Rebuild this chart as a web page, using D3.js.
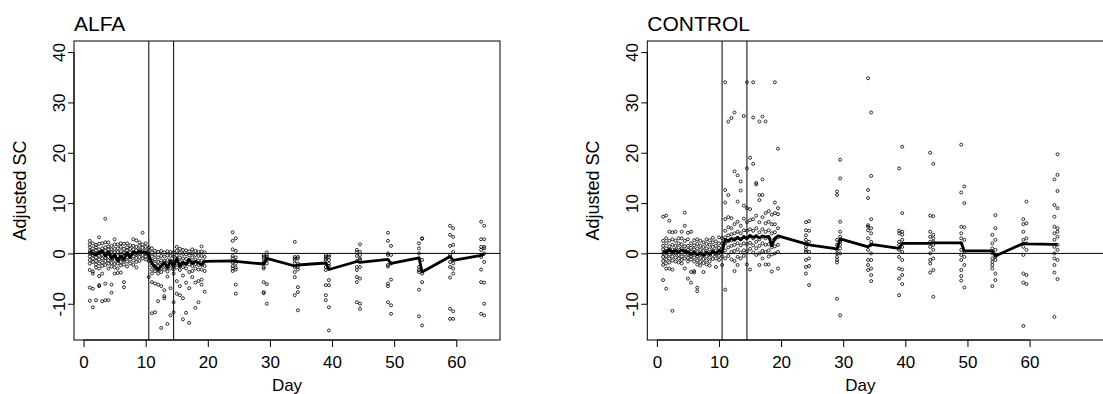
<!DOCTYPE html>
<html>
<head>
<meta charset="utf-8">
<script src="https://cdn.jsdelivr.net/npm/d3@7"></script>
<style>
  body { margin: 0; background: #fff; }
  svg { display: block; }
  text { font-family: "Liberation Sans", Arial, Helvetica, sans-serif; fill: #000; }
</style>
</head>
<body>
<svg id="chart" width="1103" height="394"></svg>
<script>
// measurement days (half-day steps in the first weeks, pairs later)
const days = [1, 1.5, 2, 2.5, 3, 3.5, 4, 4.5, 5, 5.5, 6, 6.5, 7, 7.5, 8, 8.5, 9, 9.5, 10, 10.5,
  11, 11.5, 12, 12.5, 13, 13.5, 14, 14.5, 15, 15.5, 16, 16.5, 17, 17.5, 18, 18.5, 19, 19.5,
  24, 24.5, 29, 29.5, 34, 34.5, 39, 39.5, 44, 44.5, 49, 49.5, 54, 54.5, 59, 59.5, 64, 64.5];

const xTicks = [0, 10, 20, 30, 40, 50, 60];
const yTicks = [-10, 0, 10, 20, 30, 40];
const markerDays = [10.5, 14.5];
const panelTitles = ['ALFA', 'CONTROL'];

// ALFA: adjusted SC per animal, one list per day
const alfaValues = [
  [2.5, 1.8, 1.2, 0.5, 0, -0.6, -1.3, -2.0, -3.3, -6.8, -9.4],
  [2.0, 1.0, 0.3, -0.3, -1.0, -1.7, -3.6, -4.0, -7.0, -10.7],
  [1.7, 1.2, 0.6, 0.0, -0.8, -1.5, -2.2, -2.8, -9.3],
  [3.2, 1.9, 0.8, 0.1, -0.5, -1.2, -2.0, -3.0, -4.5, -6.3, -6.5],
  [2.0, 1.0, 0.4, -0.3, -1.0, -1.8, -2.5, -4.0, -9.5],
  [6.9, 2.2, 1.2, 0.5, -0.2, -0.9, -1.5, -2.3, -6.0, -9.3],
  [2.2, 1.4, 0.8, 0.0, -0.7, -1.4, -2.0, -3.0, -9.3],
  [1.5, 0.8, 0.2, -0.6, -1.2, -1.9, -2.6, -6.2, -7.8],
  [2.8, 1.8, 0.9, 0.2, -0.5, -1.3, -2.1, -2.8, -4.0],
  [1.8, 1.0, 0.3, -0.5, -1.2, -2.0, -3.0, -3.9],
  [2.0, 1.3, 0.4, -0.3, -1.0, -1.7, -2.4, -3.8],
  [1.9, 0.9, 0.1, -0.6, -1.4, -2.2, -5.7, -6.7],
  [2.0, 1.2, 0.6, -0.1, -0.8, -1.6, -2.6],
  [1.6, 0.9, 0.2, -0.5, -1.2, -2.0],
  [2.8, 1.5, 0.8, 0.1, -0.6, -1.4, -2.3],
  [2.6, 1.3, 0.6, -0.2, -0.9, -1.7, -2.8],
  [2.2, 1.5, 0.7, 0.0, -0.7, -1.5],
  [4.1, 1.8, 1.1, 0.4, -0.3, -1.0],
  [2.0, 1.3, 0.6, 0.0, -0.6, -1.2],
  [1.2, 0.5, -0.2, -0.8, -1.5, -4.7],
  [1.0, 0.2, -0.6, -1.5, -2.4, -3.2, -4.0, -5.7, -11.9],
  [0.5, -0.3, -1.2, -2.0, -2.8, -3.5, -6.0, -11.7],
  [0.3, -0.8, -1.7, -2.5, -3.3, -4.0, -6.2, -9.5],
  [0.5, -0.5, -1.4, -2.2, -3.0, -3.7, -6.5, -14.8],
  [0.2, -0.6, -1.5, -2.4, -3.2, -7.3, -8.5, -8.9],
  [0.4, -0.4, -1.3, -2.1, -2.9, -3.6, -4.6, -14.0],
  [0.3, -0.5, -1.4, -2.2, -3.0, -6.9, -12.3],
  [0.2, -0.6, -1.5, -2.3, -3.2, -4.0, -9.7, -11.7],
  [1.3, 0.5, -0.4, -1.2, -2.0, -2.8, -5.5, -8.0],
  [0.9, 0.1, -0.8, -1.6, -2.5, -3.3, -6.5, -8.3],
  [0.7, -0.1, -1.0, -1.8, -2.7, -4.4, -8.9, -13.1],
  [0.6, -0.2, -1.1, -2.0, -3.0, -5.8, -11.8],
  [0.4, -0.4, -1.3, -2.2, -3.7, -6.9, -13.8],
  [0.8, 0.0, -0.8, -1.7, -2.5, -3.5, -4.7],
  [0.5, -0.3, -1.2, -2.1, -3.0, -5.8, -10.8],
  [0.3, -0.5, -1.4, -2.3, -3.2, -5.5, -9.7],
  [1.4, 0.4, -0.5, -1.4, -2.3, -3.2, -5.2, -6.2],
  [0.2, -0.7, -1.6, -2.5, -3.5, -7.6],
  [4.2, 2.5, 0.8, -0.5, -1.0, -1.8, -2.5, -3.0, -3.5],
  [3.0, 0.5, -0.8, -1.5, -2.0, -2.8, -3.2, -6.2, -8.0],
  [-0.3, -0.7, -1.0, -1.7, -2.0, -2.7, -3.0, -5.7, -7.7, -7.9],
  [0.2, -0.3, -0.7, -1.3, -2.0, -6.1, -10.0],
  [2.3, -0.7, -1.0, -1.3, -2.0, -2.7, -3.7, -4.7, -8.3],
  [-0.7, -1.0, -2.0, -2.7, -3.2, -6.7, -7.7, -11.3],
  [-0.3, -0.7, -1.0, -1.3, -2.7, -3.3, -6.3, -8.3, -9.3],
  [-0.3, -0.7, -1.3, -2.0, -2.5, -5.3, -6.3, -10.7, -15.3],
  [0.7, 0.2, -0.5, -1.5, -2.7, -3.3, -4.7, -5.7, -9.7],
  [1.8, 0.3, -0.3, -1.0, -1.3, -2.7, -5.0, -10.0, -11.0],
  [4.1, 2.5, 0.0, -0.3, -2.3, -2.6, -6.0, -6.5, -9.7],
  [1.5, -0.3, -2.0, -5.2, -10.3, -12.0],
  [2.0, 1.0, 0.0, -1.0, -2.7, -3.3, -3.7, -7.2, -12.5],
  [3.0, 2.9, -1.3, -4.0, -5.7, -14.3],
  [5.5, 3.7, 1.5, -0.3, -1.7, -2.7, -4.8, -11.0, -13.0],
  [5.0, 3.3, 1.7, 0.3, -2.0, -3.0, -4.0, -11.5, -13.0],
  [6.3, 2.8, 1.3, 0.7, -0.7, -3.2, -5.7, -12.0],
  [5.5, 2.8, 1.3, 1.0, 0.0, -1.7, -5.8, -10.0, -12.3]
];
const alfaMeans = [0.5, 0.0, -0.3, 0.2, 0.5, -0.5, 0.3, -1.0, -0.3, -1.5, -0.5, -1.2, 0.2, -0.8,
  0.3, 0.0, 0.5, 0.2, 0.3, -0.3, -2.0, -2.6, -3.2, -2.5, -1.8, -2.8, -1.5, -2.7, -1.0, -2.5,
  -1.8, -2.2, -1.2, -2.0, -1.6, -1.9, -2.2, -1.6,
  -1.5, -1.6, -2.1, -1.0, -2.5, -2.3, -1.9, -3.2, -1.6, -1.8, -1.2, -2.0, -0.9, -3.7, -0.6, -1.4, -0.4, -0.1];

// CONTROL
const controlValues = [
  [7.3, 2.5, 1.5, 0.8, 0.0, -0.7, -1.5, -2.3, -5.3],
  [7.5, 3.0, 2.0, 1.0, 0.3, -0.5, -1.2, -2.0, -3.0, -7.0],
  [6.5, 4.3, 2.5, 1.4, 0.6, -0.2, -1.0, -1.8, -3.0],
  [4.2, 2.8, 1.7, 0.8, 0.1, -0.6, -1.4, -3.2, -11.4],
  [4.3, 2.5, 1.5, 0.7, 0.0, -0.8, -1.6],
  [3.0, 2.0, 1.2, 0.4, -0.3, -1.0, -1.8],
  [4.3, 3.0, 1.8, 1.0, 0.2, -0.6, -1.3, -2.0],
  [8.1, 5.5, 2.5, 1.4, 0.6, -0.2, -1.0, -3.0],
  [4.1, 2.8, 1.5, 0.7, -0.1, -0.9, -1.6, -5.0],
  [4.3, 2.0, 1.1, 0.3, -0.5, -1.2, -3.7, -5.8],
  [2.6, 1.6, 0.8, 0.0, -0.8, -1.6, -3.5, -3.8],
  [2.8, 1.9, 1.0, 0.2, -0.6, -1.4, -2.2, -6.8, -7.5],
  [2.5, 1.5, 0.7, -0.1, -0.9, -1.7, -2.4],
  [2.2, 1.3, 0.5, -0.3, -1.1, -1.9, -3.7],
  [2.8, 1.9, 1.0, 0.2, -0.6, -1.4, -2.2],
  [2.6, 1.7, 0.8, 0.0, -0.8, -1.6, -2.4],
  [3.1, 2.2, 1.3, 0.5, -0.3, -1.1],
  [2.4, 1.5, 0.6, -0.2, -1.0, -2.7],
  [3.2, 2.0, 1.1, 0.3, -0.5, -1.3],
  [3.0, 2.0, 1.0, 0.2, -0.6, -2.3],
  [34.0, 12.6, 10.1, 6.8, 4.5, 3.2, 2.0, 0.6, -1.0, -7.2],
  [26.2, 11.6, 7.2, 5.2, 3.6, 2.4, 1.2, -0.5],
  [26.9, 7.0, 5.0, 3.8, 2.6, 1.5, 0.3, -1.2],
  [28.0, 16.3, 5.8, 4.0, 2.9, 1.7, 0.5, -1.5, -3.5],
  [15.5, 10.3, 6.3, 4.3, 3.1, 2.0, 0.8, -0.7, -2.3],
  [14.3, 12.5, 5.5, 4.0, 2.8, 1.6, 0.2, -1.0],
  [27.3, 9.5, 6.9, 4.6, 3.3, 2.0, 0.6, -0.5],
  [34.0, 16.9, 9.0, 6.2, 4.5, 3.1, 1.8, 0.4, -2.2],
  [19.0, 8.8, 6.6, 4.8, 3.4, 2.1, 0.9, -3.2],
  [34.0, 27.0, 17.8, 6.8, 4.5, 3.0, 1.6, 0.2],
  [14.0, 13.7, 7.5, 5.0, 3.5, 2.3, 1.0, -0.3],
  [26.2, 11.6, 10.6, 6.2, 4.2, 2.8, 1.5, 0.0, -2.3],
  [27.2, 14.7, 11.6, 7.2, 4.8, 3.3, 2.0, 0.5, -1.0],
  [26.2, 8.0, 6.0, 4.3, 3.0, 1.7, 0.3, -2.2],
  [8.4, 6.3, 4.6, 3.2, 1.8, 0.6, -0.6, -2.2],
  [7.7, 5.8, 4.0, 2.6, 1.2, -0.2, -3.6],
  [34.0, 10.1, 8.0, 5.8, 4.2, 2.8, 1.4, 0.0],
  [20.8, 9.0, 7.8, 5.0, 3.2, 1.7, 0.3, -3.0],
  [6.2, 4.6, 3.6, 2.7, 2.0, 1.3, 0.7, 0.3, -1.3, -2.7, -4.0],
  [6.4, 4.5, 2.3, 0.3, -1.0, -2.5, -6.3],
  [12.3, 11.6, 2.7, 1.7, 0.7, 0.0, -0.7, -1.3, -1.8, -9.0],
  [18.6, 14.9, 6.3, 4.3, 3.3, 2.3, 1.7, 1.0, 0.0, -12.3],
  [34.8, 12.6, 11.0, 5.6, 5.3, 4.6, 3.0, 0.7, -1.3, -2.3, -3.3],
  [28.0, 15.4, 6.8, 5.0, 4.0, 2.3, 1.7, 0.0, -1.3, -3.0, -4.3, -5.5],
  [16.9, 4.5, 4.0, 2.3, 1.7, 0.7, -0.7, -3.0, -5.0, -8.3],
  [21.2, 8.0, 4.3, 3.7, 2.7, 1.3, 0.3, -1.3, -3.2, -4.3, -6.1],
  [20.0, 7.5, 4.3, 3.3, 2.3, 1.3, 0.0, -1.3, -2.0, -3.8],
  [17.8, 7.4, 3.7, 3.0, 2.3, 1.7, 0.7, -1.0, -3.3, -8.6],
  [21.6, 12.1, 5.3, 4.0, 3.0, 2.0, 0.7, -0.3, -1.3, -3.3, -4.5, -5.4],
  [13.3, 10.0, 5.2, 2.7, 0.3, -0.7, -2.3, -6.8],
  [3.7, 2.0, 1.0, 0.0, -1.0, -1.7, -2.3, -3.0, -6.5],
  [7.6, 5.0, 2.7, 0.7, -0.7, -1.3, -4.0, -5.3],
  [6.8, 5.8, 4.3, 2.7, 1.3, -0.3, -4.0, -5.8, -14.4],
  [10.3, 6.0, 3.0, 2.0, 0.7, -4.3, -6.1],
  [14.7, 9.6, 7.3, 5.3, 4.0, 2.7, 1.3, 0.0, -1.0, -2.3, -3.8, -12.6],
  [19.7, 15.6, 12.4, 9.0, 5.0, 4.3, 3.3, 1.7, 0.7, -1.3, -5.1]
];
const controlMeans = [0.5, 0.2, 0.8, 0.3, 0.6, 0.2, 0.7, 0.4, 0.3, -0.2, 0.3, -0.3, 0.1, -0.4,
  0.2, -0.2, 0.4, 0.0, 0.6, 0.3, 2.8, 2.5, 3.0, 2.6, 3.2, 2.7, 3.3, 2.9, 3.6, 3.2,
  3.4, 3.1, 3.5, 3.3, 3.4, 1.5, 3.0, 3.5,
  1.9, 1.7, 0.9, 2.9, 1.3, 1.8, 1.0, 2.0, 2.0, 2.1, 2.1, 0.5, 0.5, -0.5, 2.0, 1.9, 1.8, 1.8];

const svg = d3.select('#chart');
const boxTop = 41;
const boxBottom = 340;
const y = d3.scaleLinear().domain([-17.2, 42.2]).range([boxBottom, boxTop]);

function drawPanel(left, boxWidth, title, values, means) {
  const x = d3.scaleLinear().domain([-1.54, 67.04]).range([left, left + 426]);
  const g = svg.append('g');

  // points
  const pts = days.flatMap((d, i) => values[i].map(v => [d, v]));
  g.append('g')
    .selectAll('circle')
    .data(pts)
    .join('circle')
    .attr('cx', d => x(d[0]))
    .attr('cy', d => y(d[1]))
    .attr('r', 1.5)
    .attr('fill', 'none')
    .attr('stroke', '#000')
    .attr('stroke-width', 0.8);

  // reference lines
  g.append('line')
    .attr('x1', left).attr('x2', left + boxWidth)
    .attr('y1', y(0)).attr('y2', y(0))
    .attr('stroke', '#000').attr('stroke-width', 1);
  g.selectAll('.vline')
    .data(markerDays)
    .join('line')
    .attr('class', 'vline')
    .attr('x1', d => x(d)).attr('x2', d => x(d))
    .attr('y1', boxTop).attr('y2', boxBottom)
    .attr('stroke', '#000').attr('stroke-width', 1);

  // mean line
  const line = d3.line().x((d, i) => x(days[i])).y(d => y(d));
  g.append('path')
    .datum(means)
    .attr('d', line)
    .attr('fill', 'none')
    .attr('stroke', '#000')
    .attr('stroke-width', 2.8)
    .attr('stroke-linejoin', 'round');

  // box
  g.append('rect')
    .attr('x', left).attr('y', boxTop)
    .attr('width', boxWidth).attr('height', boxBottom - boxTop)
    .attr('fill', 'none').attr('stroke', '#000').attr('stroke-width', 1);

  // x axis
  const xAxis = g.append('g')
    .attr('transform', `translate(0,${boxBottom})`)
    .call(d3.axisBottom(x).tickValues(xTicks).tickFormat(d => String(d)).tickSize(7).tickPadding(9))
    .attr('font-size', 17)
    .attr('font-family', null);
  xAxis.select('.domain').remove();
  xAxis.append('line')
    .attr('x1', x(xTicks[0])).attr('x2', x(xTicks[xTicks.length - 1]))
    .attr('stroke', '#000');

  // y axis, labels parallel to the axis
  const yAxis = g.append('g')
    .attr('transform', `translate(${left},0)`)
    .call(d3.axisLeft(y).tickValues(yTicks).tickFormat(d => String(d)).tickSize(6))
    .attr('font-size', 17)
    .attr('font-family', null);
  yAxis.select('.domain').remove();
  yAxis.append('line')
    .attr('y1', y(yTicks[0])).attr('y2', y(yTicks[yTicks.length - 1]))
    .attr('stroke', '#000');
  yAxis.selectAll('.tick text')
    .attr('x', null).attr('dy', null)
    .attr('text-anchor', 'middle')
    .attr('transform', 'translate(-9,0) rotate(-90)');

  // labels
  g.append('text')
    .attr('x', left).attr('y', 31)
    .attr('font-size', 21)
    .text(title);
  g.append('text')
    .attr('x', left + 213).attr('y', 391)
    .attr('text-anchor', 'middle')
    .attr('font-size', 17)
    .text('Day');
  g.append('text')
    .attr('transform', `translate(${left - 48},${(boxTop + boxBottom) / 2}) rotate(-90)`)
    .attr('text-anchor', 'middle')
    .attr('font-size', 18)
    .text('Adjusted SC');
}

drawPanel(74, 426, panelTitles[0], alfaValues, alfaMeans);
drawPanel(647.3, 470, panelTitles[1], controlValues, controlMeans);
</script>
</body>
</html>
